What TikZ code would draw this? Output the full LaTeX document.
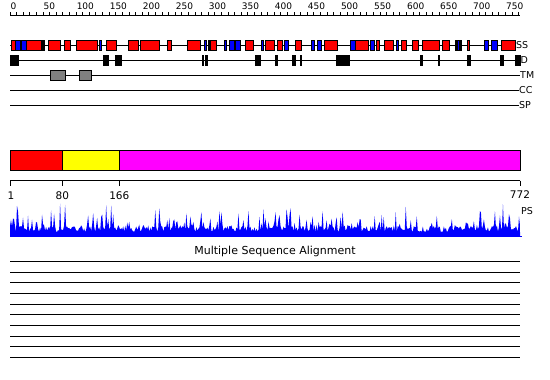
\documentclass[tikz,border=0pt]{standalone}
\usepackage{fontspec}
\setmainfont{DejaVu Sans}
\definecolor{tmgrey}{RGB}{128,128,128}
\definecolor{domred}{RGB}{255,0,0}
\definecolor{domyellow}{RGB}{255,255,0}
\definecolor{dommagenta}{RGB}{255,0,255}
\definecolor{psblue}{RGB}{0,0,255}

\tikzset{
  rulerlbl/.style={font=\fontsize{9}{11}\selectfont, inner sep=0pt},
  tracklbl/.style={font=\fontsize{9.5}{11}\selectfont, inner sep=0pt, anchor=west},
  poslbl/.style={font=\fontsize{10.5}{12}\selectfont, inner sep=0pt},
  track/.style={line width=1pt},
  helixbox/.style={fill=domred, draw=black, line width=0.8pt},
  strandbox/.style={fill=psblue, draw=black, line width=0.8pt},
  disbox/.style={fill=black, draw=black, line width=0.4pt},
  tmbox/.style={fill=tmgrey, draw=black, line width=0.8pt},
  dombox/.style={draw=black, line width=1pt},
}

\begin{document}
\begin{tikzpicture}[x=1pt,y=1pt,yscale=-1,xscale=1]
\useasboundingbox (0,0) rectangle (550,380); %whole picture is 550 by 380

%Ruler on top
\draw [line width=1pt] (10,15) -- (520,15);
\foreach \i in {0,10,...,770}
  \draw [line width=0.8pt] ({10+0.6606*\i},15) -- ++(0,-3);
\foreach \i in {0,50,...,750}
  \draw ({10.5+0.6606*\i},9.5) node [rulerlbl, anchor=base west] (r\i) {\i};

%Secondary structure track
\draw [track] (10,45) -- (516,45);
\foreach \a/\b in {11/15.7,26/41.7,48.3/60,64.3/70.7,76/97.7,106/116,128.3/138,140/159.3,
    167.3/171.3,187.3/200.7,210/216.7,245/253.3,265.7/274.7,277.3/282.7,295.3/301.3,
    324.3/337.7,355.3/368.7,376.7/379.3,384.3/393.3,401/406,412.3/418.3,422.3/439,
    442.3/449.3,455/456.7,467/469,501.7/515}
  \draw [helixbox] (\a,40) rectangle (\b,50);
\foreach \a/\b in {15.7/20,21/26,99/101.3,204/206.3,224/226.7,229.3/234,235/240.3,
    261/263.3,284.3/288.7,311/314.3,317.3/321.7,350.3/355.3,370/374.3,396.7/398.7,
    457.7/459.3,460/461.7,484.3/488.3,491.7/497.7}
  \draw [strandbox] (\a,40) rectangle (\b,50);
\foreach \a/\b in {41.7/43.7,208/210}
  \draw [disbox] (\a,40) rectangle (\b,50);
\draw (516,45) node [tracklbl] (ssLbl) {SS};

%Disorder track
\draw [track] (10,60) -- (520,60);
\foreach \a/\b in {10/18,103/108.3,114.7/120.7,201.7/203.3,205.3/207.3,255/259.7,
    275.5/277,292/294.7,300/301.3,336/342,343/349,420/422.3,438/438.8,467.3/470.3,
    500/502.7,515/520}
  \draw [disbox] (\a,55) rectangle (\b,65);
\draw (520.5,60) node [tracklbl] (dLbl) {D};

%Transmembrane track
\draw [track] (10,75) -- (520,75);
\draw [tmbox] (50,70) rectangle (65.7,80.5);
\draw [tmbox] (79,70) rectangle (91,80.5);
\draw (520,75) node [tracklbl] (tmLbl) {TM};

%Coiled coil and signal peptide tracks
\draw [track] (10,90) -- (519,90);
\draw (519,90) node [tracklbl] (ccLbl) {CC};
\draw [track] (10,105) -- (519,105);
\draw (519,105) node [tracklbl] (spLbl) {SP};

%Domain bar
\draw [dombox, fill=domred] (10,150) rectangle (62.3,170.5);
\draw [dombox, fill=domyellow] (62.3,150) rectangle (119.3,170.5);
\draw [dombox, fill=dommagenta] (119.3,150) rectangle (520,170.5);

%Domain ruler
\draw [line width=1pt] (10,180.7) -- (520,180.7);
\foreach \p in {10,62.3,119.3,520}
  \draw [line width=1pt] (\p,180.7) -- (\p,185.5);
\draw (11,196) node [poslbl] (pos1) {1};
\draw (62.3,196) node [poslbl] (pos80) {80};
\draw (119.3,196) node [poslbl] (pos166) {166};
\draw (520,195) node [poslbl] (pos772) {772};

%Profile PS
\pgfmathsetseed{4711}
\fill [psblue] (10,236) -- plot [domain=10:520, samples=510] (\x,{236-4-6*rnd-24*rnd^7}) -- (520,236) -- cycle;
\draw [psblue, line width=1pt] (10,236) -- (522,236);
\draw (527,211) node [tracklbl, anchor=center] (psLbl) {PS};

%Multiple sequence alignment
\draw (275,251.7) node [poslbl, font=\fontsize{11}{13}\selectfont] (msaLbl) {Multiple Sequence Alignment};
\foreach \k in {0,...,9}
  \draw [line width=1pt] (10,{261.6+10.65*\k}) -- (520,{261.6+10.65*\k});

\end{tikzpicture}
\end{document}
